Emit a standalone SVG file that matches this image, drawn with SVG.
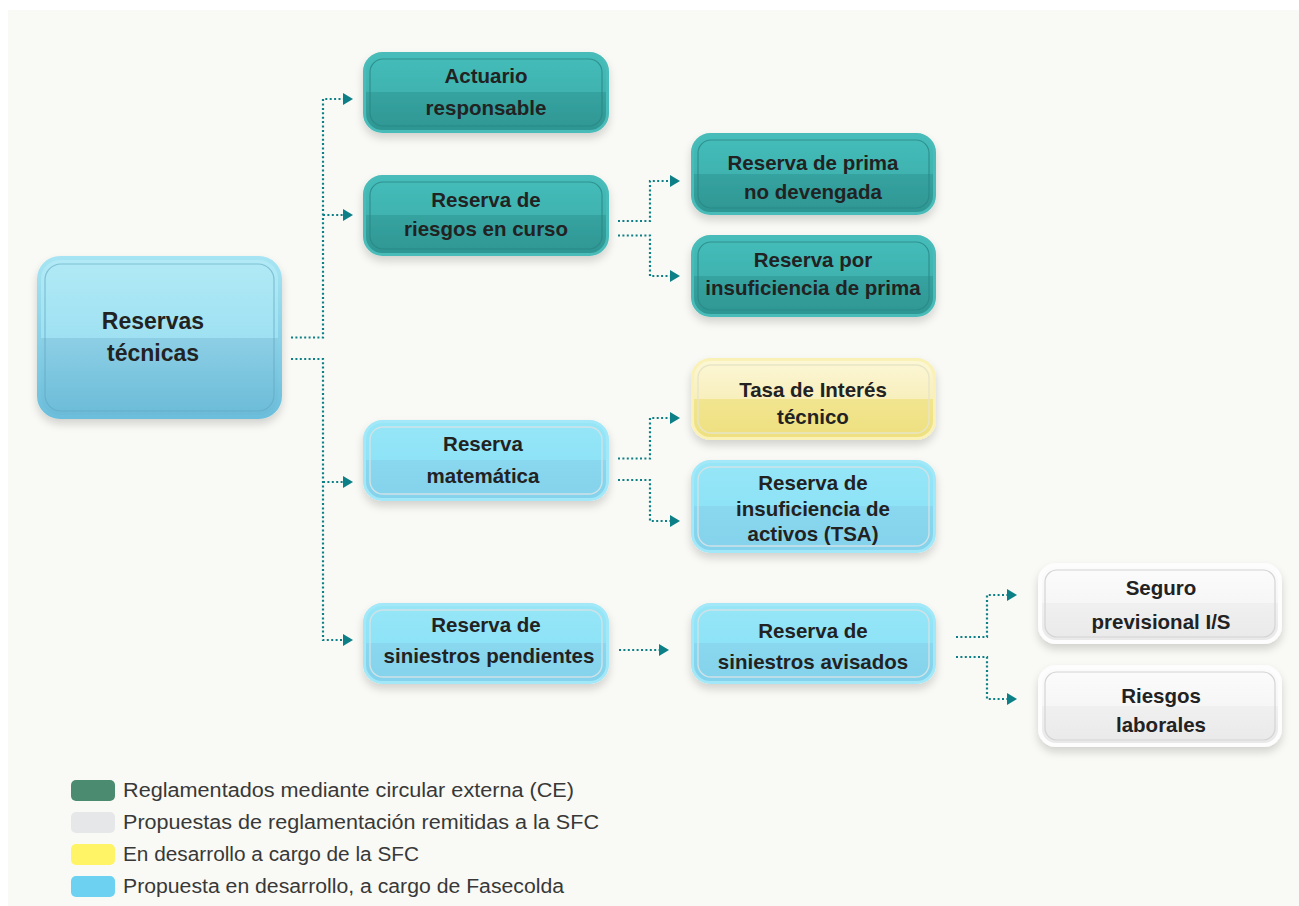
<svg xmlns="http://www.w3.org/2000/svg" width="1299" height="906" viewBox="0 0 1299 906">
<defs>
  <linearGradient id="gTeal" x1="0" y1="0" x2="0" y2="1">
    <stop offset="0" stop-color="#45bdba"/><stop offset="0.5" stop-color="#3fb3b0"/>
    <stop offset="0.5" stop-color="#36a3a0"/><stop offset="1" stop-color="#2e9693"/>
  </linearGradient>
  <linearGradient id="gBig" x1="0" y1="0" x2="0" y2="1">
    <stop offset="0" stop-color="#b2eaf6"/><stop offset="0.5" stop-color="#9fe1f2"/>
    <stop offset="0.5" stop-color="#8dcfe5"/><stop offset="1" stop-color="#6abbd8"/>
  </linearGradient>
  <linearGradient id="gBigRim" x1="0" y1="0" x2="0" y2="1">
    <stop offset="0" stop-color="#a6e4f3"/><stop offset="1" stop-color="#6cbfdc"/>
  </linearGradient>
  <linearGradient id="gBlue" x1="0" y1="0" x2="0" y2="1">
    <stop offset="0" stop-color="#96e6f7"/><stop offset="0.5" stop-color="#8ee3f6"/>
    <stop offset="0.5" stop-color="#89d8ef"/><stop offset="1" stop-color="#84d2eb"/>
  </linearGradient>
  <linearGradient id="gYellow" x1="0" y1="0" x2="0" y2="1">
    <stop offset="0" stop-color="#fcf7d6"/><stop offset="0.5" stop-color="#f8efbd"/>
    <stop offset="0.5" stop-color="#f1e590"/><stop offset="1" stop-color="#eee07f"/>
  </linearGradient>
  <linearGradient id="gGrey" x1="0" y1="0" x2="0" y2="1">
    <stop offset="0" stop-color="#fcfcfc"/><stop offset="0.5" stop-color="#f6f6f6"/>
    <stop offset="0.5" stop-color="#f0f0f0"/><stop offset="1" stop-color="#e9e9e9"/>
  </linearGradient>
  <filter id="shadow" x="-10%" y="-20%" width="120%" height="150%">
    <feDropShadow dx="0" dy="5" stdDeviation="4" flood-color="#000" flood-opacity="0.16"/>
  </filter>
  <style>
    .box { filter: url(#shadow); }
    .teal .box { fill: url(#gTeal); stroke: #49bbb8; stroke-width: 3; }
    .teal .inner { fill: none; stroke: #2a8784; stroke-width: 1.2; opacity: 0.8; }
    .big .box { fill: url(#gBig); stroke: url(#gBigRim); stroke-width: 4; }
    .big .inner { fill: none; stroke: #5fa6bf; stroke-width: 1.2; opacity: 0.6; }
    .blue .box { fill: url(#gBlue); stroke: #a2e8f8; stroke-width: 3; }
    .blue .inner { fill: none; stroke: #cfe2e7; stroke-width: 1.4; }
    .yellow .box { fill: url(#gYellow); stroke: #faf1b6; stroke-width: 3; }
    .yellow .inner { fill: none; stroke: #e8e5c6; stroke-width: 1.4; }
    .grey .box { fill: url(#gGrey); stroke: #fdfdfd; stroke-width: 4; }
    .grey .inner { fill: none; stroke: #d4d4d4; stroke-width: 1.2; }
    .label { font-family: "Liberation Sans", Arial, sans-serif; font-weight: bold; font-size: 20.5px; fill: #222; text-anchor: middle; }
    .biglabel { font-size: 23px; }
    .conn { fill: none; stroke: #0d7f86; stroke-width: 2.2; stroke-dasharray: 2 2.4; }
    .legend { font-family: "Liberation Sans", Arial, sans-serif; font-size: 20px; fill: #383838; }
  </style>
</defs>
<rect x="0" y="0" width="1299" height="906" fill="#ffffff"/>
<rect x="8" y="10" width="1291" height="896" fill="#f9faf5"/>

<g id="connectors">
  <path class="conn" d="M291 337.5 H323 V99 H343"/>
  <path class="conn" d="M323 215 H343"/>
  <path class="conn" d="M291 359 H323 V640 H343"/>
  <path class="conn" d="M323 482 H343"/>
  <path class="conn" d="M618 221 H650 V181 H670"/>
  <path class="conn" d="M618 235.5 H650 V276 H670"/>
  <path class="conn" d="M618 458.5 H650 V418 H670"/>
  <path class="conn" d="M618 480 H650 V521 H670"/>
  <path class="conn" d="M619 650 H659"/>
  <path class="conn" d="M956 637 H987 V595 H1007"/>
  <path class="conn" d="M956 657 H987 V699 H1007"/>
  <g fill="#0d7f86">
    <path d="M343 93 L353 99 L343 105 Z"/>
    <path d="M343 209 L353 215 L343 221 Z"/>
    <path d="M343 476 L353 482 L343 488 Z"/>
    <path d="M343 634 L353 640 L343 646 Z"/>
    <path d="M670 175 L680 181 L670 187 Z"/>
    <path d="M670 270 L680 276 L670 282 Z"/>
    <path d="M670 412 L680 418 L670 424 Z"/>
    <path d="M670 515 L680 521 L670 527 Z"/>
    <path d="M659 644 L669 650 L659 656 Z"/>
    <path d="M1007 589 L1017 595 L1007 601 Z"/>
    <path d="M1007 693 L1017 699 L1007 705 Z"/>
  </g>
</g>

<g id="n-reservas-tecnicas" class="node big">
  <rect class="box" x="39" y="258" width="241" height="159" rx="21"/>
  <rect class="inner" x="45" y="264" width="229" height="147" rx="16"/>
  <text class="label biglabel"><tspan x="153" y="329">Reservas</tspan><tspan x="153" y="361">técnicas</tspan></text>
</g>

<g id="n-actuario" class="node teal">
  <rect class="box" x="364.5" y="53.5" width="243" height="78" rx="18"/>
  <rect class="inner" x="370" y="59" width="232" height="67" rx="13"/>
  <text class="label"><tspan x="486" y="83">Actuario</tspan><tspan x="486" y="115">responsable</tspan></text>
</g>

<g id="n-riesgos-curso" class="node teal">
  <rect class="box" x="364.5" y="176.5" width="243" height="78" rx="18"/>
  <rect class="inner" x="370" y="182" width="232" height="67" rx="13"/>
  <text class="label"><tspan x="486" y="207">Reserva de</tspan><tspan x="486" y="236">riesgos en curso</tspan></text>
</g>

<g id="n-prima-no-devengada" class="node teal">
  <rect class="box" x="692.5" y="134.5" width="242" height="79" rx="18"/>
  <rect class="inner" x="698" y="140" width="231" height="68" rx="13"/>
  <text class="label"><tspan x="813" y="170">Reserva de prima</tspan><tspan x="813" y="199">no devengada</tspan></text>
</g>

<g id="n-insuficiencia-prima" class="node teal">
  <rect class="box" x="692.5" y="236.5" width="242" height="79" rx="18"/>
  <rect class="inner" x="698" y="242" width="231" height="68" rx="13"/>
  <text class="label"><tspan x="813" y="267">Reserva por</tspan><tspan x="813" y="295">insuficiencia de prima</tspan></text>
</g>

<g id="n-tasa-interes" class="node yellow">
  <rect class="box" x="692.5" y="359.5" width="242" height="79" rx="18"/>
  <rect class="inner" x="698" y="365" width="231" height="68" rx="13"/>
  <text class="label"><tspan x="813" y="397">Tasa de Interés</tspan><tspan x="813" y="424">técnico</tspan></text>
</g>

<g id="n-matematica" class="node blue">
  <rect class="box" x="364.5" y="421.5" width="243" height="78" rx="18"/>
  <rect class="inner" x="370" y="427" width="232" height="67" rx="13"/>
  <text class="label"><tspan x="483" y="451">Reserva</tspan><tspan x="483" y="483">matemática</tspan></text>
</g>

<g id="n-tsa" class="node blue">
  <rect class="box" x="692.5" y="461.5" width="242" height="90" rx="18"/>
  <rect class="inner" x="698" y="467" width="231" height="79" rx="13"/>
  <text class="label"><tspan x="813" y="490">Reserva de</tspan><tspan x="813" y="516">insuficiencia de</tspan><tspan x="813" y="541">activos (TSA)</tspan></text>
</g>

<g id="n-siniestros-pendientes" class="node blue">
  <rect class="box" x="364.5" y="604.5" width="243" height="78" rx="18"/>
  <rect class="inner" x="370" y="610" width="232" height="67" rx="13"/>
  <text class="label"><tspan x="486" y="632">Reserva de</tspan><tspan x="489" y="663">siniestros pendientes</tspan></text>
</g>

<g id="n-siniestros-avisados" class="node blue">
  <rect class="box" x="692.5" y="604.5" width="242" height="78" rx="18"/>
  <rect class="inner" x="698" y="610" width="231" height="67" rx="13"/>
  <text class="label"><tspan x="813" y="638">Reserva de</tspan><tspan x="813" y="669">siniestros avisados</tspan></text>
</g>

<g id="n-seguro-previsional" class="node grey">
  <rect class="box" x="1040" y="565" width="240" height="77" rx="16"/>
  <rect class="inner" x="1045" y="570" width="230" height="67" rx="12"/>
  <text class="label"><tspan x="1161" y="595">Seguro</tspan><tspan x="1161" y="629">previsional I/S</tspan></text>
</g>

<g id="n-riesgos-laborales" class="node grey">
  <rect class="box" x="1040" y="667" width="240" height="78" rx="16"/>
  <rect class="inner" x="1045" y="672" width="230" height="68" rx="12"/>
  <text class="label"><tspan x="1161" y="703">Riesgos</tspan><tspan x="1161" y="732">laborales</tspan></text>
</g>

<g id="legend">
  <rect x="71" y="780" width="44" height="21" rx="5" fill="#4b8b70"/>
  <text class="legend" x="123" y="797" textLength="451" lengthAdjust="spacingAndGlyphs">Reglamentados mediante circular externa (CE)</text>
  <rect x="71" y="812" width="44" height="21" rx="5" fill="#e6e7e9"/>
  <text class="legend" x="123" y="829" textLength="476" lengthAdjust="spacingAndGlyphs">Propuestas de reglamentación remitidas a la SFC</text>
  <rect x="71" y="844" width="44" height="21" rx="5" fill="#fef466"/>
  <text class="legend" x="123" y="861" textLength="296" lengthAdjust="spacingAndGlyphs">En desarrollo a cargo de la SFC</text>
  <rect x="71" y="876" width="44" height="21" rx="5" fill="#6dd1f2"/>
  <text class="legend" x="123" y="893" textLength="441" lengthAdjust="spacingAndGlyphs">Propuesta en desarrollo, a cargo de Fasecolda</text>
</g>
</svg>
